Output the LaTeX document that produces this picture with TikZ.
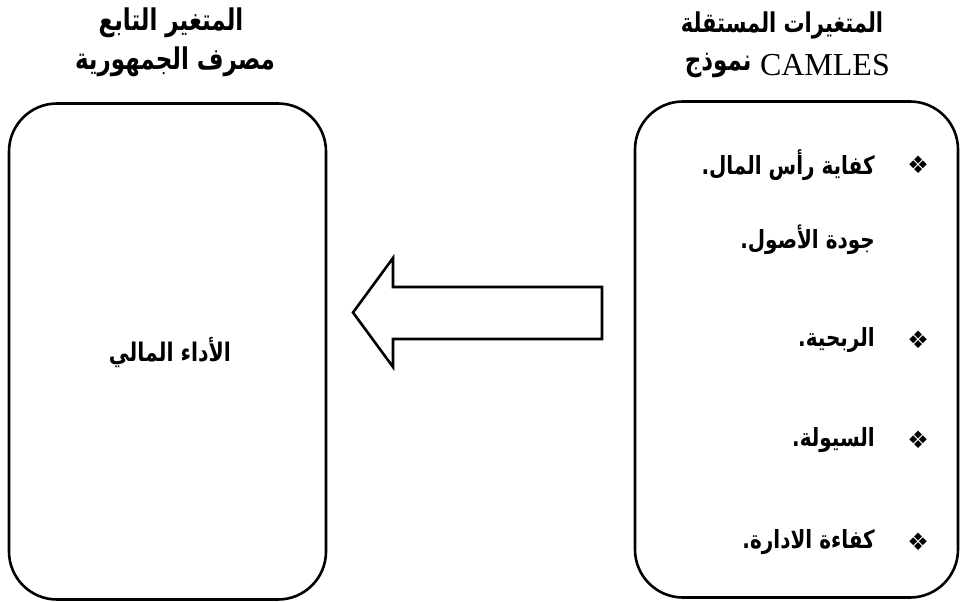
\documentclass[tikz,border=0pt]{standalone}
\usepackage{fontspec}
\TeXXeTstate=1
\newfontfamily\arabicfont[Script=Arabic]{DejaVu Sans}
\newfontfamily\symfont{DejaVu Sans}
\setmainfont{Liberation Serif}
\newcommand{\tallbox}[2][1.25]{\scalebox{1}[#1]{#2}}
\begin{document}
\begin{tikzpicture}[x=1pt,y=-1pt,
  box/.style={draw=black, line width=2.6pt, rounded corners=48pt, fill=white, inner sep=0pt},
  head/.style={font=\arabicfont\bfseries\fontsize{21}{25}\selectfont, inner sep=0pt},
  lhead/.style={font=\arabicfont\bfseries\fontsize{23}{27}\selectfont, inner sep=0pt},
  item/.style={anchor=east, font=\arabicfont\bfseries\fontsize{20}{24}\selectfont, inner sep=0pt},
  bul/.style={font=\symfont\fontsize{24}{28}\selectfont, inner sep=0pt},
  blockarrow/.style={draw=black, line width=2.6pt, fill=white, line join=miter}]
\useasboundingbox (0,0) rectangle (961,602);
% boxes
\node[box, minimum width=317pt, minimum height=496pt] (dep) at (167.5,351.5) {};
\node[box, minimum width=323pt, minimum height=496pt] (indep) at (796.5,349.5) {};
% headers
\node[head] (h1) at (782,25) {\tallbox[1.3]{\beginR المتغيرات المستقلة\endR}};
\node[anchor=east, inner sep=0pt, font=\rmfamily\fontsize{32}{36}\selectfont] (h2a) at (890,65) {CAMLES};
\node[head, anchor=east, xshift=-8pt, font=\arabicfont\bfseries\fontsize{23}{27}\selectfont] (h2b) at (h2a.west) {\tallbox[1.3]{\beginR نموذج\endR}};
\node[lhead] (h3) at (171,23) {\tallbox[1.3]{\beginR المتغير التابع\endR}};
\node[lhead] (h4) at (175,62) {\tallbox[1.3]{\beginR مصرف الجمهورية\endR}};
% center text
\node[font=\arabicfont\bfseries\fontsize{20.5}{24}\selectfont, inner sep=0pt] (perf) at (170,353) {\tallbox{\beginR الأداء المالي\endR}};
% items
\node[bul] (b1) at (918,165) {❖};
\node[item] (i1) at (875,165) {\tallbox{\beginR كفاية رأس المال.\endR}};
\node[item] (i2) at (875,240) {\tallbox{\beginR جودة الأصول.\endR}};
\node[bul] (b3) at (918,340) {❖};
\node[item] (i3) at (875,340) {\tallbox{\beginR الربحية.\endR}};
\node[bul] (b4) at (918,440) {❖};
\node[item] (i4) at (875,440) {\tallbox{\beginR السيولة.\endR}};
\node[bul] (b5) at (918,542) {❖};
\node[item] (i5) at (875,542) {\tallbox{\beginR كفاءة الادارة.\endR}};
% block arrow
\draw[blockarrow] (602,287) -- (393,287) -- (393,258) -- (353,312.5) -- (393,367) -- (393,339) -- (602,339) -- cycle;
\end{tikzpicture}
\end{document}
